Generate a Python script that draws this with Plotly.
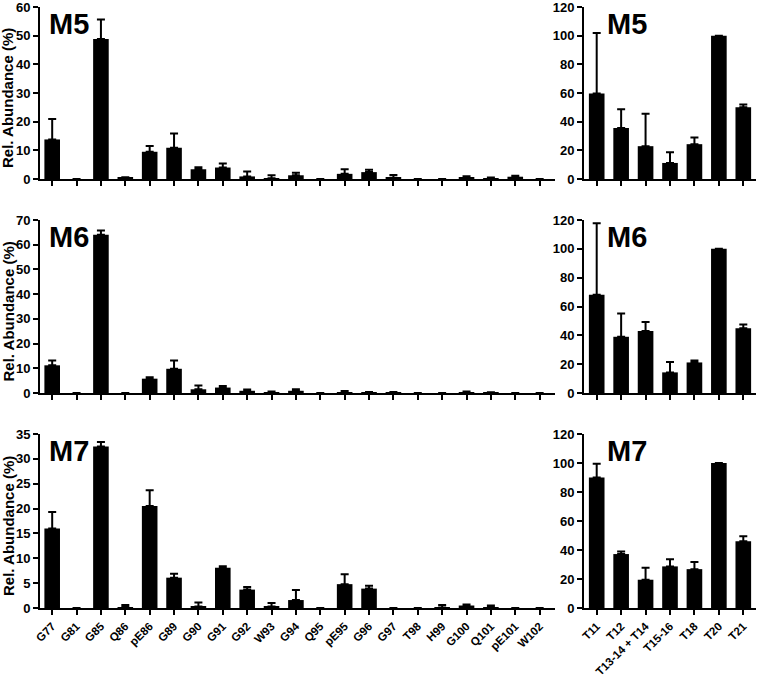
import plotly.graph_objects as go

W, H = 757, 679

left_categories = ["G77", "G81", "G85", "Q86", "pE86", "G89", "G90", "G91", "G92", "W93", "G94",
                   "Q95", "pE95", "G96", "G97", "T98", "H99", "G100", "Q101", "pE101", "W102"]
right_categories = ["T11", "T12", "T13-14 + T14", "T15-16", "T18", "T20", "T21"]

m5_left = [13.8, 0, 48.8, 0.4, 9.5, 10.9, 3.4, 4.0, 0.9, 0.3, 1.3, 0, 1.8, 2.4, 0.4, 0, 0, 0.6, 0.2, 0.8, 0]
m5_left_err = [7.1, 0, 6.8, 0.2, 2.0, 5.0, 0.7, 1.4, 1.7, 1.0, 0.9, 0, 1.6, 0.8, 1.0, 0, 0, 0.4, 0.3, 0.3, 0]
m6_left = [11.2, 0, 64.0, 0, 5.8, 9.8, 1.5, 2.2, 0.9, 0.2, 0.9, 0, 0.3, 0.2, 0.1, 0, 0, 0.2, 0.1, 0, 0]
m6_left_err = [2.0, 0, 1.8, 0, 0.6, 3.3, 1.5, 0.6, 0.5, 0.4, 0.6, 0, 0.5, 0.2, 0.3, 0, 0, 0.4, 0.2, 0, 0]
m7_left = [16.0, 0, 32.5, 0.2, 20.5, 6.1, 0.3, 8.1, 3.7, 0.3, 1.6, 0, 4.8, 3.9, 0, 0, 0.1, 0.5, 0.1, 0, 0]
m7_left_err = [3.3, 0, 0.9, 0.4, 3.2, 0.8, 0.8, 0.3, 0.5, 0.7, 2.0, 0, 2.0, 0.6, 0, 0, 0.5, 0.2, 0.4, 0, 0]

m5_right = [59.6, 35.6, 22.9, 11.2, 24.3, 100, 50.0]
m5_right_err = [42.2, 13.0, 22.7, 7.4, 4.6, 0, 2.0]
m6_right = [68.1, 39.0, 43.0, 14.3, 21.2, 100, 45.0]
m6_right_err = [49.7, 16.2, 6.2, 7.2, 1.4, 0, 2.6]
m7_right = [90.0, 37.2, 19.5, 28.7, 26.8, 100, 46.0]
m7_right_err = [9.4, 1.8, 8.3, 5.0, 4.9, 0, 3.5]

panel_names = ["M5", "M6", "M7"]
left_y_max = [60, 70, 35]
left_y_step = [10, 10, 5]
right_y_max = [120, 120, 120]
right_y_step = [20, 20, 20]

left_vals = [m5_left, m6_left, m7_left]
left_errs = [m5_left_err, m6_left_err, m7_left_err]
right_vals = [m5_right, m6_right, m7_right]
right_errs = [m5_right_err, m6_right_err, m7_right_err]

FONT = "Liberation Sans, Arial, sans-serif"

# pixel layout
rows_px = [(7, 179), (220, 393), (434, 608)]
left_px = (40, 555)
right_px = (584, 756)


def ydom(r):
    t, b = rows_px[r]
    return [1 - b / H, 1 - t / H]


def xdom(p):
    return [p[0] / W, p[1] / W]


fig = go.Figure()
annotations = []

for r in range(3):
    for c in range(2):
        idx = r * 2 + c + 1
        xa = "x" if idx == 1 else f"x{idx}"
        ya = "y" if idx == 1 else f"y{idx}"
        cats = left_categories if c == 0 else right_categories
        vals = left_vals[r] if c == 0 else right_vals[r]
        errs = left_errs[r] if c == 0 else right_errs[r]
        ymax = left_y_max[r] if c == 0 else right_y_max[r]
        ystep = left_y_step[r] if c == 0 else right_y_step[r]
        err_plus = [e if e > 0 else None for e in errs]
        err_minus = [0 if e > 0 else None for e in errs]

        fig.add_trace(go.Bar(
            x=cats, y=vals, xaxis=xa, yaxis=ya,
            marker=dict(color="black", line=dict(width=0)),
            width=0.64,
            error_y=dict(type="data", array=err_plus, arrayminus=err_minus, symmetric=False,
                         color="black", thickness=2, width=4),
            showlegend=False,
        ))

        xkey = "xaxis" if idx == 1 else f"xaxis{idx}"
        ykey = "yaxis" if idx == 1 else f"yaxis{idx}"
        if c == 0:
            xr = [-0.5, 20.63]
        else:
            xr = [-0.52, 6.52]
        fig.layout[xkey] = dict(
            domain=xdom(left_px if c == 0 else right_px),
            anchor=ya, type="category", range=xr, automargin=False,
            showline=True, linecolor="black", linewidth=2,
            ticks="outside", ticklen=5, tickwidth=2, tickcolor="black",
            showgrid=False, zeroline=False,
            showticklabels=(r == 2), tickangle=-45,
            tickfont=dict(family=FONT, size=11.5, color="black", weight="bold"),
            ticklabeloverflow="allow",
            fixedrange=True,
        )
        fig.layout[ykey] = dict(
            domain=ydom(r), anchor=xa, range=[0, ymax], automargin=False,
            tickmode="linear", tick0=0, dtick=ystep,
            showline=True, linecolor="black", linewidth=2,
            ticks="outside", ticklen=5, tickwidth=2, tickcolor="black",
            showgrid=False, zeroline=False,
            tickfont=dict(family=FONT, size=13, color="black", weight="bold"),
            ticklabeloverflow="allow",
            fixedrange=True,
        )

        # panel label
        lx = 47 if c == 0 else 605
        ly = rows_px[r][0] + 17
        annotations.append(dict(
            text=f"<b>{panel_names[r]}</b>", xref="paper", yref="paper",
            x=lx / W, y=1 - ly / H, xanchor="left", yanchor="middle",
            showarrow=False, font=dict(family=FONT, size=29, color="black"),
        ))

    # y title
    cy = (rows_px[r][0] + rows_px[r][1]) / 2 + 5
    annotations.append(dict(
        text="<b>Rel. Abundance (%)</b>", xref="paper", yref="paper",
        x=8 / W, y=1 - cy / H, xanchor="center", yanchor="middle",
        textangle=-90, showarrow=False,
        font=dict(family=FONT, size=15, color="black"),
    ))

fig.update_layout(
    template="none",
    width=W, height=H,
    margin=dict(l=0, r=0, t=0, b=0),
    paper_bgcolor="white", plot_bgcolor="white",
    bargap=0.36,
    annotations=annotations,
    font=dict(family=FONT, color="black"),
)

fig.write_html("out.html", config={"displayModeBar": False},
               post_script="document.body.style.margin='0';document.body.style.padding='0';")
